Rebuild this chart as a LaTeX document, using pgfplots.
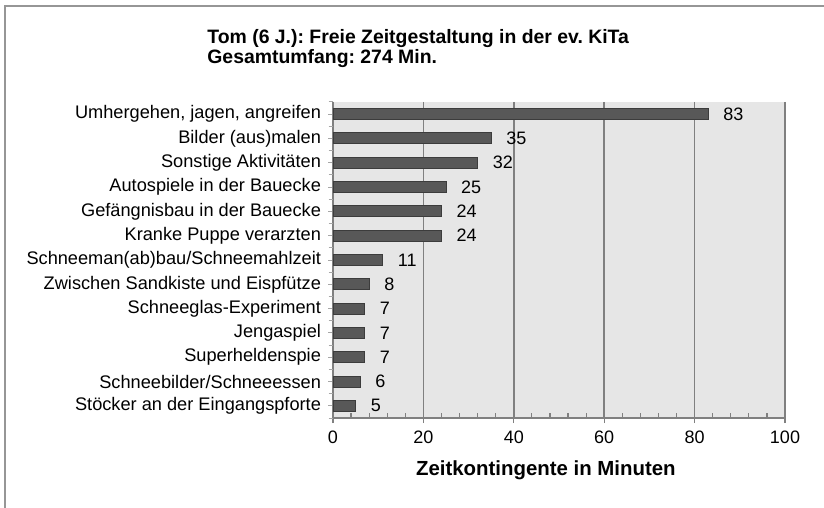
\documentclass[border=0pt]{standalone}
\usepackage{fontspec}
\setmainfont{Liberation Sans}
\usepackage{pgfplots}
\pgfplotsset{compat=1.18}
\definecolor{bggray}{RGB}{230,230,230}
\definecolor{gridgray}{RGB}{128,128,128}
\definecolor{barfill}{RGB}{88,88,88}
\definecolor{barline}{RGB}{60,60,60}
\definecolor{framegray}{RGB}{150,150,150}
\frenchspacing
\begin{document}
\begin{tikzpicture}
\path[use as bounding box] (0,0) rectangle (412pt,254pt);
\draw[framegray, line width=0.8pt] (2.6pt,0) -- (2.6pt,251pt) -- (412pt,251pt);
\node[anchor=base west, inner sep=0, font=\fontsize{9.7}{11}\selectfont\bfseries] at (103.5pt,232pt) {Tom (6 J.): Freie Zeitgestaltung in der ev. KiTa};
\node[anchor=base west, inner sep=0, font=\fontsize{9.7}{11}\selectfont\bfseries] at (103.5pt,222.3pt) {Gesamtumfang: 274 Min.};
\begin{axis}[
  at={(166.5pt,45pt)}, anchor=south west,
  width=226pt, height=158pt, scale only axis,
  xbar, bar width=5.5pt,
  xmin=0, xmax=100, ymin=-0.5, ymax=12.5,
  y dir=reverse,
  axis background/.style={fill=bggray},
  axis x line*=bottom, axis y line*=left,
  axis line style={gridgray, line width=0.75pt},
  xmajorgrids, grid style={gridgray, line width=0.75pt},
  xtick={0,20,...,100}, minor x tick num=4,
  tick align=outside,
  tick style={gridgray, line width=0.6pt},
  major tick length=2.5pt, minor tick length=2.5pt,
  minor x tick style={yshift=2.5pt},
  ytick={0,...,12},
  ytick style={gridgray!70, line width=0.5pt},
  yticklabels={Umhergehen\hbox{,} jagen\hbox{,} angreifen,Bilder (aus)malen,Sonstige Aktivitäten,Autospiele in der Bauecke,Gefängnisbau in der Bauecke,Kranke Puppe verarzten,Schneeman(ab)bau/Schneemahlzeit,Zwischen Sandkiste und Eispfütze,Schneeglas-Experiment,Jengaspiel,Superheldenspie,Schneebilder/Schneeessen,Stöcker an der Eingangspforte},
  extra y ticks={-0.5,0.5,...,12.5}, extra y tick labels={},
  extra y tick style={grid=none, major tick length=2.2pt, tick style={gridgray, line width=0.6pt}},
  yticklabel style={font=\fontsize{9.1}{10}\selectfont, xshift=0pt},
  xticklabel style={font=\fontsize{9}{10}\selectfont, yshift=-0.5pt},
  /pgf/number format/assume math mode=true,
  xlabel={Zeitkontingente in Minuten},
  xlabel style={font=\fontsize{10.2}{11}\selectfont\bfseries, at={(axis description cs:0.471,0)}, anchor=base, yshift=-28.5pt},
  nodes near coords,
  every node near coord/.append style={font=\fontsize{9}{10}\selectfont, black, xshift=4pt},
  clip=false,
]
\addplot[fill=barfill, draw=barline, line width=0.5pt] coordinates {
 (83,0) (35,1) (32,2) (25,3) (24,4) (24,5) (11,6) (8,7) (7,8) (7,9) (7,10) (6,11) (5,12)
};
\end{axis}
\end{tikzpicture}
\end{document}
